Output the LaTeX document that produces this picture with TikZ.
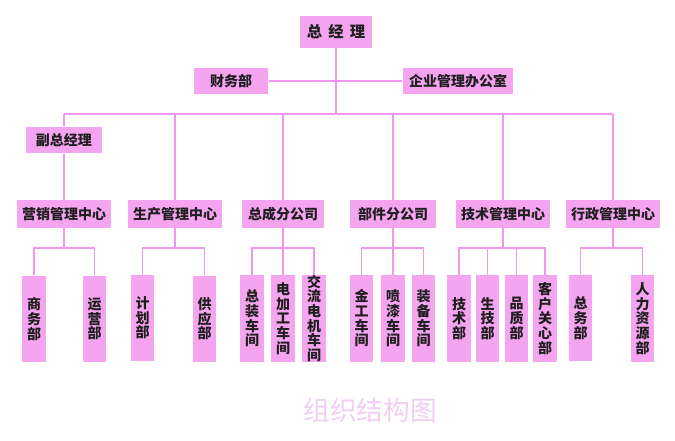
\documentclass[tikz,border=0pt]{standalone}
\usepackage{fontspec}
\newfontfamily\cjk{Noto Sans CJK SC}
\definecolor{boxpink}{HTML}{F5A4F0}
\definecolor{linepink}{HTML}{F296F0}
\definecolor{titlepink}{HTML}{F1CDF4}
\tikzset{
  unit/.style={fill=boxpink, inner sep=0pt, text=black!88,
    font=\cjk\bfseries\fontsize{10.5}{11}\selectfont},
  wide/.style={unit, minimum height=21pt},
  tall/.style={unit, minimum width=17.5pt, minimum height=65pt, align=center},
  link/.style={linepink, line width=0.8pt},
}
\begin{document}
\begin{tikzpicture}[x=0.75pt, y=-0.75pt]
  \useasboundingbox (0,0) rectangle (675,441);
  % top
  \node[wide, minimum width=54pt, minimum height=24pt, font=\cjk\bfseries\fontsize{11.5}{12}\selectfont] (gm) at (336,32) {总\hspace{0.4em}经\hspace{0.4em}理};
  \node[wide, minimum width=56pt, minimum height=20pt] (fin) at (231,81) {财务部};
  \node[wide, minimum width=83pt, minimum height=20pt] (office) at (458,81) {企业管理办公室};
  \node[wide, minimum width=57pt, minimum height=20pt] (vp) at (64,140) {副总经理};
  \coordinate (bus) at (336,114);
  \coordinate (sub) at (0,248);
  % centres
  \node[wide, minimum width=70.5pt] (mkt) at (64,214) {营销管理中心};
  \node[wide, minimum width=70pt] (prod) at (175,214) {生产管理中心};
  \node[wide, minimum width=61pt] (asm) at (283,214) {总成分公司};
  \node[wide, minimum width=64pt] (parts) at (393,214) {部件分公司};
  \node[wide, minimum width=70pt] (tech) at (503,214) {技术管理中心};
  \node[wide, minimum width=70.5pt] (admin) at (613,214) {行政管理中心};
  % departments
  \node[tall] (biz) at (34,319) {商\\务\\部};
  \node[tall] (ops) at (94.5,319) {运\\营\\部};
  \node[tall] (plan) at (142.5,318) {计\\划\\部};
  \node[tall] (supply) at (204.5,319) {供\\应\\部};
  \node[tall] (fa) at (252,318.5) {总\\装\\车\\间};
  \node[tall] (em) at (283,318.5) {电\\加\\工\\车\\间};
  \node[tall] (ac) at (314,318.5) {交\\流\\电\\机\\车\\间};
  \node[tall] (metal) at (361.5,318.5) {金\\工\\车\\间};
  \node[tall] (paint) at (393,318.5) {喷\\漆\\车\\间};
  \node[tall] (equip) at (423.5,318.5) {装\\备\\车\\间};
  \node[tall] (td) at (459,318.5) {技\\术\\部};
  \node[tall] (pt) at (487.5,318.5) {生\\技\\部};
  \node[tall] (qa) at (516.5,318.5) {品\\质\\部};
  \node[tall] (cc) at (545,318.5) {客\\户\\关\\心\\部};
  \node[tall] (ga) at (580.5,318) {总\\务\\部};
  \node[tall] (hr) at (642.5,318.5) {人\\力\\资\\源\\部};
  \node[font=\cjk\fontsize{20}{20}\selectfont, text=titlepink] (title) at (370,410) {组织结构图};
  % links
  \draw[link] (gm.south) -- (bus);
  \draw[link] (fin.east) -- (office.west);
  \draw[link] (vp.north |- bus) -- (admin.north |- bus);
  \draw[link] (vp.north |- bus) -- (vp.north);
  \draw[link] (vp.south) -- (mkt.north);
  \draw[link] (prod.north |- bus) -- (prod.north);
  \draw[link] (asm.north |- bus) -- (asm.north);
  \draw[link] (parts.north |- bus) -- (parts.north);
  \draw[link] (tech.north |- bus) -- (tech.north);
  \draw[link] (admin.north |- bus) -- (admin.north);
  \draw[link] (mkt.south) -- (mkt.south |- sub);
  \draw[link] (biz.north) -- (biz.north |- sub) -- (ops.north |- sub) -- (ops.north);
  \draw[link] (prod.south) -- (prod.south |- sub);
  \draw[link] (plan.north) -- (plan.north |- sub) -- (supply.north |- sub) -- (supply.north);
  \draw[link] (asm.south) -- (em.north);
  \draw[link] (fa.north) -- (fa.north |- sub) -- (ac.north |- sub) -- (ac.north);
  \draw[link] (parts.south) -- (paint.north);
  \draw[link] (metal.north) -- (metal.north |- sub) -- (equip.north |- sub) -- (equip.north);
  \draw[link] (tech.south) -- (tech.south |- sub);
  \draw[link] (td.north) -- (td.north |- sub) -- (cc.north |- sub) -- (cc.north);
  \draw[link] (pt.north |- sub) -- (pt.north);
  \draw[link] (qa.north |- sub) -- (qa.north);
  \draw[link] (admin.south) -- (admin.south |- sub);
  \draw[link] (ga.north) -- (ga.north |- sub) -- (hr.north |- sub) -- (hr.north);
\end{tikzpicture}
\end{document}
